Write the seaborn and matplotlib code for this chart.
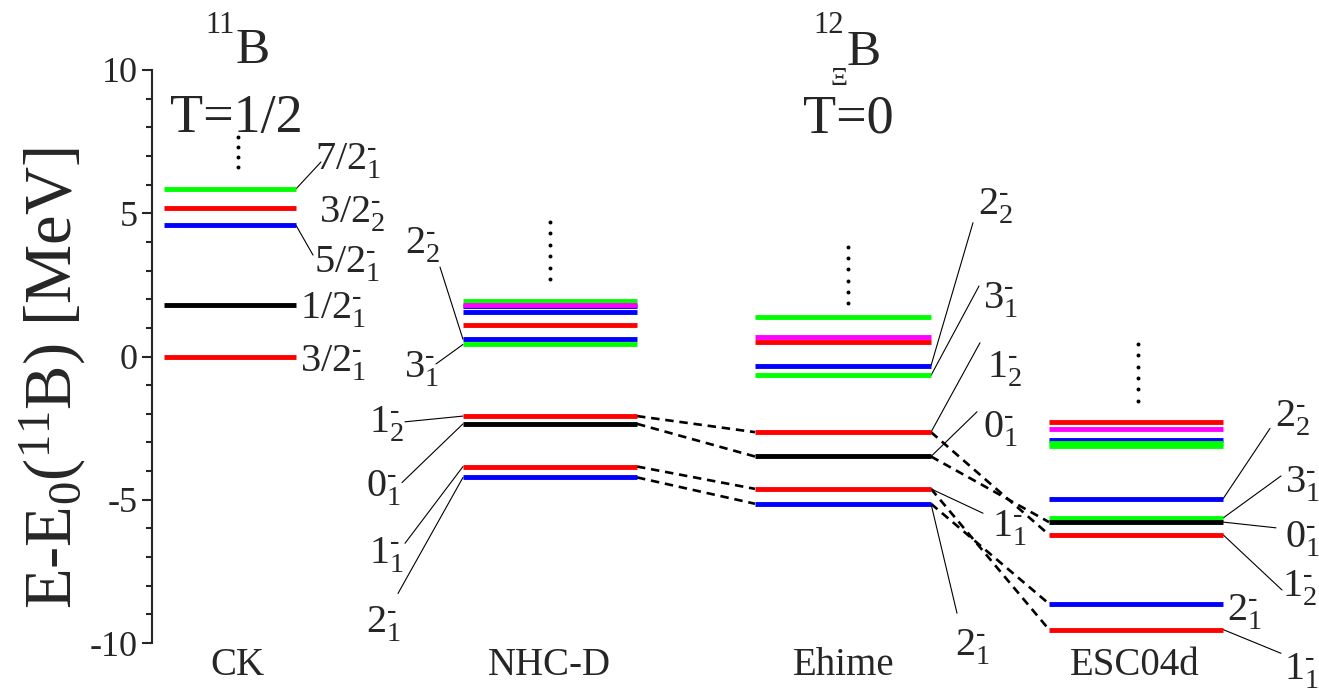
import numpy as np
import pandas as pd
import matplotlib
matplotlib.use('Agg')
import matplotlib.pyplot as plt
import seaborn as sns

sns.set_style('ticks')
plt.rcParams['font.family'] = ['Liberation Serif', 'DejaVu Serif']
plt.rcParams['mathtext.fontset'] = 'custom'
plt.rcParams['mathtext.rm'] = 'Liberation Serif'
plt.rcParams['mathtext.it'] = 'Liberation Serif:italic'
plt.rcParams['mathtext.bf'] = 'Liberation Serif:bold'
plt.rcParams['axes.unicode_minus'] = False

# ---------------- data ----------------
models = ['CK', 'NHC-D', 'Ehime', 'ESC04d']

# 11B (CK shell model), energies in MeV
ck_E = [0.00, 1.80, 4.58, 5.19, 5.85]
ck_J = ['3/2', '1/2', '5/2', '3/2', '7/2']
ck_state = ['3/2_1', '1/2_1', '5/2_1', '3/2_2', '7/2_1']

# 12_Xi B, T=0 levels
nhc_E = [-4.22, -3.84, -2.35, -2.08, 0.42, 0.60, 1.09, 1.54, 1.76, 1.79, 1.93]
nhc_J = ['2', '1', '0', '1', '3', '2', '1', '2', '2', '4', '3']
nhc_state = ['2_1', '1_1', '0_1', '1_2', '3_1', '2_2', '', '', '', '', '']

ehime_E = [-5.14, -4.62, -3.49, -2.64, -0.66, -0.32, 0.51, 0.67, 1.37]
ehime_J = ['2', '1', '0', '1', '3', '2', '1', '4', '3']
ehime_state = ['2_1', '1_1', '0_1', '1_2', '3_1', '2_2', '', '', '']

esc_E = [-9.53, -8.63, -6.22, -5.78, -5.64, -4.97, -3.13, -3.01, -2.92, -2.52, -2.27]
esc_J = ['1', '2', '1', '0', '3', '2', '3', '3', '2', '4', '1']
esc_state = ['1_1', '2_1', '1_2', '0_1', '3_1', '2_2', '', '', '', '', '']

connected_states = ['1_2', '0_1', '1_1', '2_1']

# ---------------- layout / style ----------------
spans = {'CK': (164, 296), 'NHC-D': (463, 637), 'Ehime': (755, 931), 'ESC04d': (1049, 1223)}
label_x = [237, 549, 844, 1135]
palette = {'1/2': 'black', '3/2': 'red', '5/2': 'blue', '7/2': '#00ff00',
           '0': 'black', '1': 'red', '2': 'blue', '3': '#00ff00', '4': '#ff00ff'}
hue_order = ['5/2', '2', '3/2', '1', '7/2', '3', '4', '1/2', '0']

# text position (x, E) and leader start (x, E) for each labelled state
label_layout = {
    'CK': {'7/2_1': ((315, 6.51), (321, 6.79)), '3/2_2': ((319, 4.69), None),
           '5/2_1': ((314, 2.93), (313, 3.54)), '1/2_1': ((300, 1.31), None),
           '3/2_1': ((300, -0.54), None)},
    'NHC-D': {'2_2': ((405, 3.61), (440, 3.12)), '3_1': ((404, -0.75), (436, -0.26)),
              '1_2': ((369, -2.67), (405, -2.28)), '0_1': ((366, -4.87), (402, -4.40)),
              '1_1': ((369, -7.21), (405, -6.52)), '2_1': ((366, -9.65), (398, -8.27))},
    'Ehime': {'2_2': ((978, 4.94), (973, 4.67)), '3_1': ((983, 1.69), (979, 2.46)),
              '1_2': ((987, -0.72), (980, 0.48)), '0_1': ((983, -2.84), (977, -1.93)),
              '1_1': ((992, -6.27), (983, -5.47)), '2_1': ((955, -10.42), (957, -8.96))},
    'ESC04d': {'2_2': ((1275, -2.46), (1270, -2.51)), '3_1': ((1285, -4.76), (1281, -4.17)),
               '0_1': ((1285, -6.65), (1276, -5.98)), '1_2': ((1282, -8.39), (1282, -8.15)),
               '2_1': ((1227, -9.20), None), '1_1': ((1284, -11.29), (1281, -10.36))},
}
left_side = {'NHC-D'}
dots = {'CK': (237.7, 7.67, 6.62, 4), 'NHC-D': (550.3, 4.71, 2.69, 6),
        'Ehime': (848.3, 3.82, 1.87, 6), 'ESC04d': (1138.3, 0.44, -1.54, 6)}

# ---------------- build tables ----------------
all_E = [ck_E, nhc_E, ehime_E, esc_E]
all_J = [ck_J, nhc_J, ehime_J, esc_J]
all_S = [ck_state, nhc_state, ehime_state, esc_state]
rows = []
lid = 0
for m, Es, Js, Ss in zip(models, all_E, all_J, all_S):
    x0, x1 = spans[m]
    for e, j, s in zip(Es, Js, Ss):
        rows.append(dict(model=m, level=lid, J=j, state=s, x=x0, E=e))
        rows.append(dict(model=m, level=lid, J=j, state=s, x=x1, E=e))
        lid += 1
df = pd.DataFrame(rows)

# ---------------- figure ----------------
W, H = 1319, 693
fig = plt.figure(figsize=(W / 100, H / 100), dpi=100)
ax = fig.add_axes([152 / W, (H - 643) / H, (W - 152) / W, 573 / H])

sns.lineplot(data=df, x='x', y='E', hue='J', units='level', estimator=None,
             sort=False, palette=palette, hue_order=hue_order, lw=3.5,
             legend=False, ax=ax, solid_capstyle='butt')

# dashed connectors between neighbouring models
levels = df.drop_duplicates('level')
for a, b in zip(models[1:-1], models[2:]):
    for s in connected_states:
        ea = levels[(levels.model == a) & (levels.state == s)].E.values[0]
        eb = levels[(levels.model == b) & (levels.state == s)].E.values[0]
        ax.plot([spans[a][1], spans[b][0]], [ea, eb], color='black', lw=1.9,
                ls=(0, (3.2, 2.2)), zorder=1)

# state labels with leader lines
for m in models:
    for s, (tpos, lpos) in label_layout[m].items():
        j, n = s.split('_')
        ax.text(tpos[0], tpos[1], rf'${j}^{{\text{{-}}}}_{{{n}}}$', fontsize=29,
                ha='left', va='baseline', clip_on=False)
        if lpos is not None:
            e = levels[(levels.model == m) & (levels.state == s)].E.values[0]
            xe = spans[m][0] if m in left_side else spans[m][1]
            ax.plot([xe, lpos[0]], [e, lpos[1]], color='black', lw=0.8,
                    clip_on=False, zorder=1)

# vertical dots indicating higher states
for m, (xd, y1, y2, n) in dots.items():
    ys = np.linspace(y1, y2, n)
    ax.scatter(np.full(n, xd), ys, s=8, color='black', linewidths=0, zorder=3)

# titles
ax.text(205, 11.29, '11', fontsize=22, ha='left', va='baseline', clip_on=False)
ax.text(236, 10.24, 'B', fontsize=37, ha='left', va='baseline', clip_on=False)
ax.text(236, 7.83, 'T=1/2', fontsize=39, ha='center', va='baseline')
ax.text(813, 11.29, '12', fontsize=22, ha='left', va='baseline', clip_on=False)
ax.text(847, 10.17, 'B', fontsize=37, ha='left', va='baseline', clip_on=False)
ax.text(830, 9.48, 'Ξ', fontsize=19, ha='left', va='baseline', clip_on=False)
ax.text(848, 7.83, 'T=0', fontsize=39, ha='center', va='baseline')

# axes styling
ax.set_xlim(152, W)
ax.set_ylim(-10, 10)
ax.set_yticks([-10, -5, 0, 5, 10])
ax.set_yticks(np.arange(-10, 11, 1), minor=True)
ax.set_xticks(label_x)
ax.set_xticklabels(models)
ax.set_xlabel('')
ax.set_ylabel('')
for sp in ['top', 'right', 'bottom']:
    ax.spines[sp].set_visible(False)
ax.spines['left'].set_linewidth(1.5)
ax.tick_params(axis='y', which='major', direction='out', length=7.5, width=1.5,
               labelsize=26, pad=3)
ax.tick_params(axis='y', which='minor', direction='out', length=4.5, width=1.5)
ax.tick_params(axis='x', length=0, labelsize=28, pad=3)

fig.text(53 / W, 1 - 378 / H, r'E-E$_0$($^{11}$B) [MeV]', rotation=90,
         fontsize=48, ha='center', va='center')

fig.savefig('out.png', dpi=100)
